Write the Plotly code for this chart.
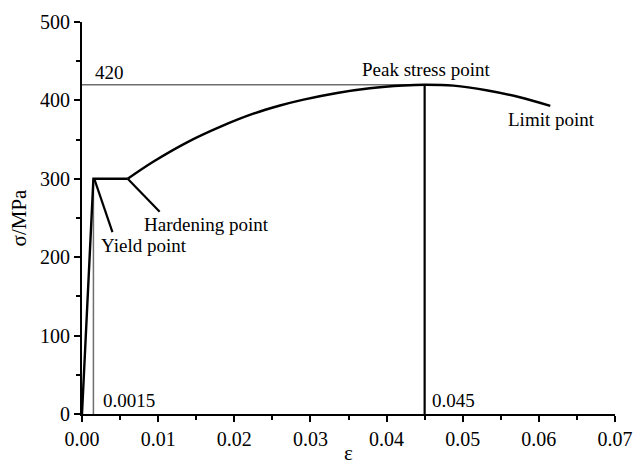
import plotly.graph_objects as go

# Elastic branch and yield plateau (straight segments)
eps_elastic = [0.0, 0.0015, 0.006]
sig_elastic = [0, 300, 300]

# Strain-hardening branch up to the peak, then softening to the limit point
eps_hard = [0.006, 0.0094, 0.0138, 0.0182, 0.0225, 0.0260, 0.0291, 0.0335,
            0.0378, 0.0422, 0.045, 0.0488, 0.0531, 0.0575, 0.0615]
sig_hard = [300, 322, 346.5, 366.5, 383, 393.5, 401, 409.5,
            415.5, 419, 420, 418.8, 413, 404, 393]

# Key values
eps_yield = 0.0015
eps_peak = 0.045
sig_peak = 420

# Leader lines for the point labels
yield_leader_x = [0.00165, 0.0040]
yield_leader_y = [299, 232]
hard_leader_x = [0.006, 0.0102]
hard_leader_y = [300, 258]

x_ticks = [0.00, 0.01, 0.02, 0.03, 0.04, 0.05, 0.06, 0.07]
y_ticks = [0, 100, 200, 300, 400, 500]

SERIF = "Liberation Serif, Times New Roman, serif"
GREY = "#6e6e6e"

fig = go.Figure()

# Reference lines: strain 0.0015, peak stress 420, peak strain 0.045
fig.add_trace(go.Scatter(x=[eps_yield, eps_yield], y=[0, 300], mode="lines",
                         line=dict(color=GREY, width=1.5), hoverinfo="skip"))
fig.add_trace(go.Scatter(x=[0, eps_peak], y=[sig_peak, sig_peak], mode="lines",
                         line=dict(color=GREY, width=1.5), hoverinfo="skip"))
fig.add_trace(go.Scatter(x=[eps_peak, eps_peak], y=[0, sig_peak], mode="lines",
                         line=dict(color="black", width=2.2), hoverinfo="skip"))

# Stress-strain curve
fig.add_trace(go.Scatter(x=eps_elastic, y=sig_elastic, mode="lines",
                         line=dict(color="black", width=2.4)))
fig.add_trace(go.Scatter(x=eps_hard, y=sig_hard, mode="lines",
                         line=dict(color="black", width=2.4, shape="spline", smoothing=1.0)))

# Leader lines
fig.add_trace(go.Scatter(x=yield_leader_x, y=yield_leader_y, mode="lines",
                         line=dict(color="black", width=2.2)))
fig.add_trace(go.Scatter(x=hard_leader_x, y=hard_leader_y, mode="lines",
                         line=dict(color="black", width=2.2)))

labels = [
    dict(x=0.00148, y=436, text="420", xanchor="left"),
    dict(x=0.0452, y=439, text="Peak stress point", xanchor="center"),
    dict(x=0.0616, y=376, text="Limit point", xanchor="center"),
    dict(x=0.0082, y=215, text="Yield point", xanchor="center"),
    dict(x=0.0163, y=242, text="Hardening point", xanchor="center"),
    dict(x=0.00249, y=17, text="0.0015", xanchor="left"),
    dict(x=0.0457, y=17, text="0.045", xanchor="left"),
]
for lb in labels:
    fig.add_annotation(x=lb["x"], y=lb["y"], text=lb["text"], xanchor=lb["xanchor"],
                       yanchor="middle", showarrow=False,
                       font=dict(family=SERIF, size=19, color="black"))

fig.update_layout(
    width=633, height=465,
    margin=dict(l=82, r=18, t=22, b=51),
    paper_bgcolor="white", plot_bgcolor="white",
    showlegend=False,
    font=dict(family=SERIF, size=20, color="black"),
)

fig.update_xaxes(
    range=[0, 0.07], tickvals=x_ticks, ticktext=[f"{v:.2f}" for v in x_ticks],
    automargin=False,
    showline=True, linecolor="black", linewidth=2, mirror=False,
    ticks="outside", ticklen=6, tickwidth=2, tickcolor="black",
    minor=dict(dtick=0.005, tick0=0, ticks="outside", ticklen=4, tickwidth=1.5,
               tickcolor="black", showgrid=False),
    showgrid=False, zeroline=False,
    tickfont=dict(family=SERIF, size=20, color="black"),
    title=dict(text="ε", font=dict(family=SERIF, size=21, color="black"), standoff=4),
)
fig.update_yaxes(
    range=[0, 500], tickvals=y_ticks,
    automargin=False,
    showline=True, linecolor="black", linewidth=2, mirror=False,
    ticks="outside", ticklen=6, tickwidth=2, tickcolor="black",
    minor=dict(dtick=50, tick0=0, ticks="outside", ticklen=4, tickwidth=1.5,
               tickcolor="black", showgrid=False),
    showgrid=False, zeroline=False,
    tickfont=dict(family=SERIF, size=20, color="black"),
    title=dict(text="σ/MPa", font=dict(family=SERIF, size=21, color="black"), standoff=8),
)

fig.write_html("out.html")
